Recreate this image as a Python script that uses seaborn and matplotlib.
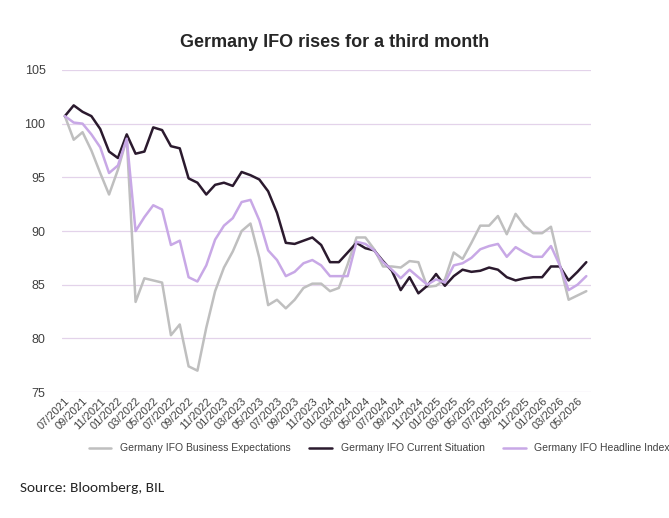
import numpy as np
import pandas as pd
import matplotlib
matplotlib.use("Agg")
import matplotlib.pyplot as plt
import seaborn as sns

# Monthly dates 07/2021 - 06/2026
months = pd.date_range("2021-07-01", "2026-06-01", freq="MS")
labels = [d.strftime("%m/%Y") for d in months]

expectations = [100.7, 98.5, 99.2, 97.5, 95.4, 93.4, 95.7, 98.6, 83.4, 85.6,
                85.4, 85.2, 80.3, 81.3, 77.4, 77.0, 81.0, 84.4, 86.6, 88.1,
                90.0, 90.7, 87.5, 83.1, 83.6, 82.8, 83.6, 84.7, 85.1, 85.1,
                84.4, 84.7, 86.9, 89.4, 89.4, 88.3, 86.7, 86.7, 86.6, 87.2,
                87.1, 84.8, 84.9, 85.5, 88.0, 87.4, 88.9, 90.5, 90.5, 91.4,
                89.7, 91.6, 90.5, 89.8, 89.8, 90.4, 86.9, 83.6, 84.0, 84.4]
current = [100.7, 101.7, 101.1, 100.7, 99.5, 97.4, 96.8, 99.0, 97.2, 97.4,
           99.65, 99.4, 97.9, 97.7, 94.9, 94.5, 93.4, 94.3, 94.5, 94.2,
           95.5, 95.2, 94.8, 93.7, 91.7, 88.9, 88.8, 89.1, 89.4, 88.7,
           87.1, 87.1, 88.0, 88.9, 88.4, 88.2, 87.2, 86.3, 84.5, 85.7,
           84.2, 84.9, 86.0, 84.9, 85.8, 86.4, 86.2, 86.3, 86.6, 86.4,
           85.7, 85.4, 85.6, 85.7, 85.7, 86.7, 86.7, 85.4, 86.2, 87.1]
headline = [100.7, 100.1, 100.0, 99.0, 97.8, 95.4, 96.1, 98.6, 90.0, 91.3,
            92.4, 92.0, 88.7, 89.1, 85.7, 85.3, 86.8, 89.2, 90.5, 91.2,
            92.7, 92.9, 91.0, 88.2, 87.3, 85.8, 86.2, 87.0, 87.3, 86.8,
            85.8, 85.8, 85.8, 89.0, 88.8, 88.2, 87.1, 86.4, 85.6, 86.4,
            85.7, 85.0, 85.5, 85.2, 86.8, 87.0, 87.5, 88.3, 88.6, 88.8,
            87.6, 88.5, 88.0, 87.6, 87.6, 88.6, 86.8, 84.5, 85.0, 85.8]

series = {
    "Germany IFO Business Expectations": expectations,
    "Germany IFO Current Situation": current,
    "Germany IFO Headline Index": headline,
}
colors = ["#bfbfbf", "#2b1a2e", "#c8a8e6"]

df = pd.DataFrame({"idx": np.arange(len(months)), **series})
long = df.melt(id_vars="idx", var_name="series", value_name="value")

sns.set_style("white")
plt.rcParams["font.family"] = ["Liberation Sans", "DejaVu Sans"]

fig = plt.figure(figsize=(6.69, 5.18), dpi=100)
ax = fig.add_axes([0.093, 0.243, 0.79, 0.622])
sns.lineplot(data=long, x="idx", y="value", hue="series", palette=colors,
             linewidth=1.8, ax=ax, legend=True)

ax.set_ylim(75, 105)
ax.set_yticks(range(75, 106, 5))
ax.set_xlim(-0.3, len(months) - 0.5)
ax.set_xticks(range(0, len(months), 2))
ax.set_xticklabels(labels[::2], rotation=45, ha="right", rotation_mode="anchor",
                   fontsize=8, color="#404040")
ax.tick_params(axis="y", labelsize=9, colors="#404040", length=0, pad=12)
ax.tick_params(axis="x", length=0, pad=3)
ax.yaxis.grid(True, color="#e3d3ea", linewidth=0.9)
ax.set_xlabel("")
ax.set_ylabel("")
for s in ax.spines.values():
    s.set_visible(False)

ax.legend(loc="upper center", bbox_to_anchor=(0.6, -0.13), ncol=3, frameon=False,
          fontsize=7.5, handlelength=2.2, columnspacing=1.8, labelcolor="#404040")

fig.text(0.5, 0.91, "Germany IFO rises for a third month", ha="center",
         fontsize=13, fontweight="bold")
fig.text(0.03, 0.05, "Source: Bloomberg, BIL", fontsize=11, family=["Carlito", "Liberation Sans", "DejaVu Sans"])

fig.savefig("out.png", dpi=100)
